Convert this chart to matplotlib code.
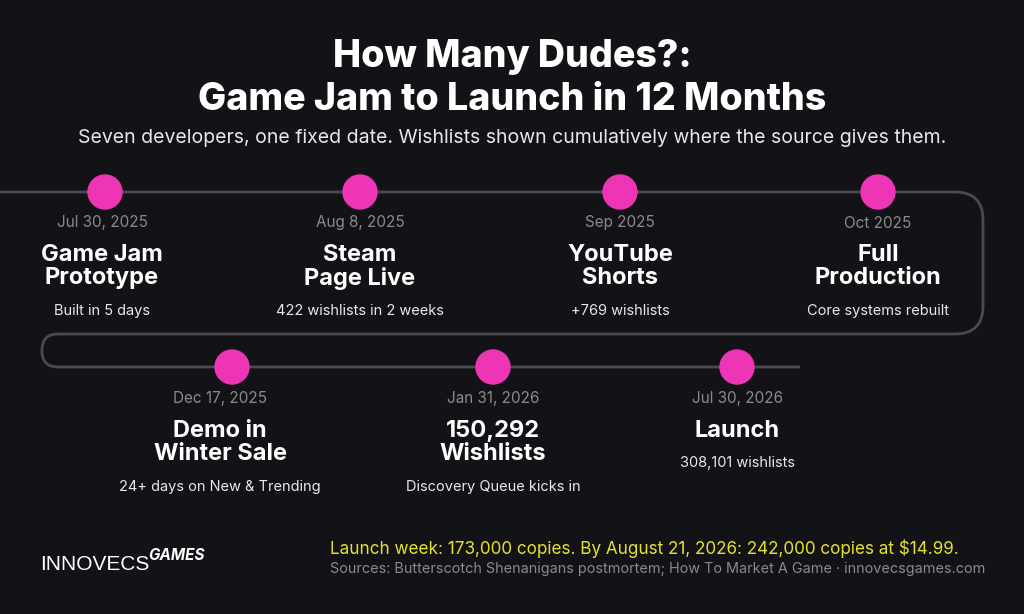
import matplotlib
matplotlib.use("Agg")
import matplotlib.pyplot as plt
from matplotlib.path import Path
from matplotlib.patches import PathPatch, Circle

dates = ["Jul 30, 2025", "Aug 8, 2025", "Sep 2025", "Oct 2025",
         "Dec 17, 2025", "Jan 31, 2026", "Jul 30, 2026"]
titles = ["Game Jam\nPrototype", "Steam\nPage Live", "YouTube\nShorts", "Full\nProduction",
          "Demo in\nWinter Sale", "150,292\nWishlists", "Launch"]
notes = ["Built in 5 days", "422 wishlists in 2 weeks", "+769 wishlists", "Core systems rebuilt",
         "24+ days on New & Trending", "Discovery Queue kicks in", "308,101 wishlists"]

BG = "#131317"
PINK = "#ee35b5"
W, H = 1024, 614
fig = plt.figure(figsize=(W/100, H/100), dpi=100, facecolor=BG)
ax = fig.add_axes([0, 0, 1, 1])
ax.set_xlim(0, W); ax.set_ylim(H, 0); ax.axis("off")
ax.set_facecolor(BG)

F = "Inter"
r = 28
y1, y2, y3 = 192, 334, 367
xr, xl = 983, 42
verts = [(0, y1), (xr - r, y1), (xr, y1), (xr, y1 + r), (xr, y2 - r), (xr, y2), (xr - r, y2),
         (xl + 16, y2), (xl, y2), (xl, y2 + 16), (xl, y3 - 16), (xl, y3), (xl + 16, y3), (800, y3)]
codes = [Path.MOVETO, Path.LINETO, Path.CURVE3, Path.CURVE3, Path.LINETO, Path.CURVE3, Path.CURVE3,
         Path.LINETO, Path.CURVE3, Path.CURVE3, Path.LINETO, Path.CURVE3, Path.CURVE3, Path.LINETO]
ax.add_patch(PathPatch(Path(verts, codes), fill=False, ec="#4a4a50", lw=2))

xs = [105, 360, 620, 878, 232, 493, 737]
ys = [y1]*4 + [y3]*3
tx = [102, 360, 620, 878, 220, 493, 737]
for i in range(7):
    ax.add_patch(Circle((xs[i], ys[i]), 17, color=PINK, zorder=3))
    top = i < 4
    dy = 0 if top else 176
    ax.text(tx[i], 223 + dy, dates[i], color="#8a8a8e", fontsize=11, ha="center", va="center", family=F)
    nlines = titles[i].count("\n") + 1
    ax.text(tx[i], 244 + dy, titles[i], color="white", fontsize=17, fontweight="bold", ha="center",
            va="top", family=F, linespacing=1.05)
    ax.text(tx[i], (311 if nlines == 2 else 287) + dy, notes[i], color="#e8e8e8", fontsize=10.5,
            ha="center", va="center", family=F)

ax.text(512, 57, "How Many Dudes?:", color="white", fontsize=27, fontweight="heavy", ha="center", va="center", family=F)
ax.text(512, 100, "Game Jam to Launch in 12 Months", color="white", fontsize=27, fontweight="heavy", ha="center", va="center", family=F)
ax.text(512, 138, "Seven developers, one fixed date. Wishlists shown cumulatively where the source gives them.",
        color="#e8e8e8", fontsize=14, ha="center", va="center", family=F)

ax.text(330, 548, "Launch week: 173,000 copies. By August 21, 2026: 242,000 copies at $14.99.",
        color="#e6e02e", fontsize=12.3, ha="left", va="center", family=F)
ax.text(330, 569, "Sources: Butterscotch Shenanigans postmortem; How To Market A Game · innovecsgames.com",
        color="#8a8a8e", fontsize=10.4, ha="left", va="center", family=F)

ax.text(40, 565, "INNOVECS", color="white", fontsize=15, ha="left", va="center", family="Liberation Sans")
ax.text(148, 555, "GAMES", color="white", fontsize=11, ha="left", va="center", style="italic", family=F, fontweight="bold")

fig.savefig("out.png", dpi=100, facecolor=BG)
